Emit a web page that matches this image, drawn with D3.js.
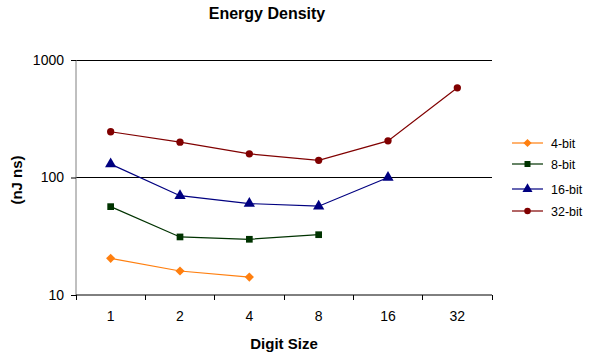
<!DOCTYPE html>
<html><head><meta charset="utf-8">
<script src="https://cdn.jsdelivr.net/npm/d3@7"></script>
<style>body{margin:0;background:#fff;font-family:Arial,"Liberation Sans",sans-serif}</style>
</head><body><svg id="c" width="589" height="358"></svg>
<script>
const categories = ["1","2","4","8","16","32"];
const seriesNames = ["4-bit","8-bit","16-bit","32-bit"];
const bit4  = [20.5, 16, 14.2, null, null, null];
const bit8  = [56.5, 31.2, 29.8, 32.6, null, null];
const bit16 = [130, 70, 60, 57, 100, null];
const bit32 = [245, 200, 159, 140, 205, 580];
const yTicks = [10, 100, 1000];
const colors = ["#ff7f0f", "#003300", "#000080", "#800000"];
const diamond = { draw(ctx, size) { const r = Math.sqrt(size / 2); ctx.moveTo(0, -r); ctx.lineTo(r, 0); ctx.lineTo(0, r); ctx.lineTo(-r, 0); ctx.closePath(); } };
const symbols = [diamond, d3.symbolSquare, d3.symbolTriangle, d3.symbolCircle];
const symSizes = [42, 45, 55, 42];
const allSeries = [bit4, bit8, bit16, bit32];
const FONT = "Arial,'Liberation Sans',sans-serif";

const svg = d3.select("#c");
const L = 76, R = 492, T = 60, B = 295;
const x = d3.scaleBand().domain(categories).range([L, R]);
const y = d3.scaleLog().domain([10, 1000]).range([B, T]);

svg.append("text").attr("x", 267).attr("y", 19).attr("text-anchor", "middle")
  .attr("font-size", 16).attr("font-weight", "bold").text("Energy Density");

svg.append("g").selectAll("line").data(yTicks.filter(d => d > 10)).join("line")
  .attr("x1", L).attr("x2", R).attr("y1", d => y(d)).attr("y2", d => y(d))
  .attr("stroke", "#000").attr("stroke-width", 1).attr("shape-rendering", "crispEdges");

const ya = svg.append("g").attr("transform", `translate(${L},0)`)
  .call(d3.axisLeft(y).tickValues(yTicks).tickFormat(d3.format("d")).tickSize(5).tickPadding(7));
ya.select(".domain").attr("stroke", "#808080").attr("d", `M0,${T}V${B}`);
ya.selectAll(".tick line").attr("stroke", "#000");
ya.selectAll("text").attr("font-size", 14).attr("font-family", FONT).attr("fill", "#000");

const xa = svg.append("g").attr("transform", `translate(0,${B})`)
  .call(d3.axisBottom(x).tickSize(0).tickPadding(16));
xa.select(".domain").attr("stroke", "#000").attr("d", `M${L},0H${R}`);
xa.selectAll("text").attr("font-size", 14).attr("font-family", FONT).attr("fill", "#000");
const bounds = categories.map(c => x(c)).concat([R]);
xa.selectAll(".bt").data(bounds).join("line").attr("class", "bt")
  .attr("x1", d => d).attr("x2", d => d).attr("y1", 0).attr("y2", 5)
  .attr("stroke", "#000").attr("shape-rendering", "crispEdges");

svg.append("text").attr("x", 284).attr("y", 349).attr("text-anchor", "middle")
  .attr("font-size", 15).attr("font-weight", "bold").text("Digit Size");
svg.append("text").attr("transform", "translate(22,180) rotate(-90)").attr("text-anchor", "middle")
  .attr("font-size", 15).attr("font-weight", "bold").text("(nJ ns)");

const cx = c => x(c) + x.bandwidth() / 2;
allSeries.forEach((s, i) => {
  const pts = categories.map((c, j) => ({c, v: s[j]})).filter(p => p.v != null);
  svg.append("path").datum(pts)
    .attr("d", d3.line().x(p => cx(p.c)).y(p => y(p.v)))
    .attr("fill", "none").attr("stroke", colors[i]).attr("stroke-width", 1.2);
  svg.append("g").selectAll("path").data(pts).join("path")
    .attr("transform", p => `translate(${cx(p.c)},${y(p.v)})`)
    .attr("d", d3.symbol().type(symbols[i]).size(symSizes[i]))
    .attr("fill", colors[i]);
});

const legY = [143, 164, 189, 211];
const lg = svg.append("g");
seriesNames.forEach((n, i) => {
  const g = lg.append("g").attr("transform", `translate(0,${legY[i]})`);
  g.append("line").attr("x1", 512).attr("x2", 543).attr("y1", 0).attr("y2", 0)
    .attr("stroke", colors[i]).attr("stroke-width", 1.2);
  g.append("path").attr("transform", "translate(527.5,0)")
    .attr("d", d3.symbol().type(symbols[i]).size(symSizes[i] * 0.8))
    .attr("fill", colors[i]);
  g.append("text").attr("x", 551).attr("y", 5).attr("font-size", 12.5).attr("font-family", FONT).text(n);
});
</script></body></html>
